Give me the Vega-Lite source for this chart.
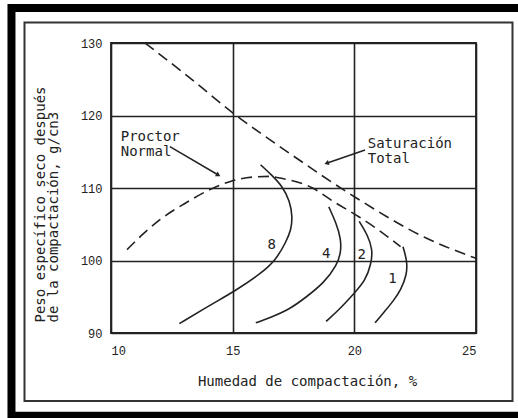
{
  "$schema": "https://vega.github.io/schema/vega-lite/v6.json",
  "width": 365,
  "height": 290,
  "autosize": {"type": "none"},
  "padding": {"left": 111, "top": 43, "right": 42, "bottom": 85},
  "background": "white",
  "config": {
    "view": {"stroke": "#222", "strokeWidth": 1.8},
    "font": "DejaVu Sans Mono",
    "axis": {
      "domain": false,
      "ticks": false,
      "grid": true,
      "gridColor": "#222",
      "gridWidth": 1.6,
      "gridOpacity": 1,
      "labelFont": "Liberation Mono",
      "labelFontSize": 12,
      "labelColor": "#222",
      "titleFont": "DejaVu Sans Mono",
      "titleFontWeight": "normal",
      "titleColor": "#222"
    }
  },
  "datasets": {
    "curves": [
      {"curve": "Saturación Total", "i": 0, "w": 11.4, "d": 130.0},
      {"curve": "Saturación Total", "i": 1, "w": 13.2, "d": 125.3},
      {"curve": "Saturación Total", "i": 2, "w": 15.03, "d": 120.3},
      {"curve": "Saturación Total", "i": 3, "w": 17.33, "d": 114.8},
      {"curve": "Saturación Total", "i": 4, "w": 20.0, "d": 108.8},
      {"curve": "Saturación Total", "i": 5, "w": 22.95, "d": 103.1},
      {"curve": "Saturación Total", "i": 6, "w": 25.0, "d": 100.3},
      {"curve": "Proctor Normal", "i": 0, "w": 10.66, "d": 101.5},
      {"curve": "Proctor Normal", "i": 1, "w": 11.3, "d": 103.6},
      {"curve": "Proctor Normal", "i": 2, "w": 12.0, "d": 105.6},
      {"curve": "Proctor Normal", "i": 3, "w": 13.0, "d": 107.8},
      {"curve": "Proctor Normal", "i": 4, "w": 14.14, "d": 109.9},
      {"curve": "Proctor Normal", "i": 5, "w": 15.0, "d": 111.0},
      {"curve": "Proctor Normal", "i": 6, "w": 15.8, "d": 111.5},
      {"curve": "Proctor Normal", "i": 7, "w": 16.5, "d": 111.6},
      {"curve": "Proctor Normal", "i": 8, "w": 17.05, "d": 111.3},
      {"curve": "Proctor Normal", "i": 9, "w": 18.29, "d": 110.0},
      {"curve": "Proctor Normal", "i": 10, "w": 19.11, "d": 108.2},
      {"curve": "Proctor Normal", "i": 11, "w": 20.2, "d": 106.0},
      {"curve": "Proctor Normal", "i": 12, "w": 21.0, "d": 104.2},
      {"curve": "Proctor Normal", "i": 13, "w": 21.9, "d": 101.9}
    ],
    "energy": [
      {"curve": "8", "i": 0, "w": 16.15, "d": 113.2},
      {"curve": "8", "i": 1, "w": 16.6, "d": 111.8},
      {"curve": "8", "i": 2, "w": 17.05, "d": 110.2},
      {"curve": "8", "i": 3, "w": 17.35, "d": 108.2},
      {"curve": "8", "i": 4, "w": 17.46, "d": 106.0},
      {"curve": "8", "i": 5, "w": 17.4, "d": 104.2},
      {"curve": "8", "i": 6, "w": 17.2, "d": 102.6},
      {"curve": "8", "i": 7, "w": 16.78, "d": 100.1},
      {"curve": "8", "i": 8, "w": 16.2, "d": 98.3},
      {"curve": "8", "i": 9, "w": 15.1, "d": 95.8},
      {"curve": "8", "i": 10, "w": 14.2, "d": 94.1},
      {"curve": "8", "i": 11, "w": 12.81, "d": 91.3},
      {"curve": "4", "i": 0, "w": 18.95, "d": 107.4},
      {"curve": "4", "i": 1, "w": 19.25, "d": 105.2},
      {"curve": "4", "i": 2, "w": 19.45, "d": 103.0},
      {"curve": "4", "i": 3, "w": 19.45, "d": 101.2},
      {"curve": "4", "i": 4, "w": 19.3, "d": 99.4},
      {"curve": "4", "i": 5, "w": 18.75, "d": 96.9},
      {"curve": "4", "i": 6, "w": 18.0, "d": 94.9},
      {"curve": "4", "i": 7, "w": 17.35, "d": 93.3},
      {"curve": "4", "i": 8, "w": 16.6, "d": 92.2},
      {"curve": "4", "i": 9, "w": 15.95, "d": 91.4},
      {"curve": "2", "i": 0, "w": 20.2, "d": 105.4},
      {"curve": "2", "i": 1, "w": 20.55, "d": 103.5},
      {"curve": "2", "i": 2, "w": 20.75, "d": 101.5},
      {"curve": "2", "i": 3, "w": 20.7, "d": 99.6},
      {"curve": "2", "i": 4, "w": 20.45, "d": 97.2},
      {"curve": "2", "i": 5, "w": 20.0, "d": 95.5},
      {"curve": "2", "i": 6, "w": 19.4, "d": 93.3},
      {"curve": "2", "i": 7, "w": 18.84, "d": 91.6},
      {"curve": "1", "i": 0, "w": 22.0, "d": 101.9},
      {"curve": "1", "i": 1, "w": 22.18, "d": 99.8},
      {"curve": "1", "i": 2, "w": 22.15, "d": 98.0},
      {"curve": "1", "i": 3, "w": 21.92, "d": 96.0},
      {"curve": "1", "i": 4, "w": 21.6, "d": 94.4},
      {"curve": "1", "i": 5, "w": 21.25, "d": 93.0},
      {"curve": "1", "i": 6, "w": 20.85, "d": 91.4}
    ],
    "energyLabels": [
      {"label": "8", "w": 16.6, "d": 102.1},
      {"label": "4", "w": 18.84, "d": 100.9},
      {"label": "2", "w": 20.3, "d": 100.7},
      {"label": "1", "w": 21.57, "d": 97.4}
    ],
    "notes": [
      {"label": "Proctor\nNormal", "w": 10.4, "d": 117.1},
      {"label": "Saturación\nTotal", "w": 20.55, "d": 116.05}
    ],
    "leaders": [
      {"curve": "Proctor Normal", "i": 0, "w": 12.42, "d": 115.7},
      {"curve": "Proctor Normal", "i": 1, "w": 14.41, "d": 111.79},
      {"curve": "Saturación Total", "i": 0, "w": 20.44, "d": 115.24},
      {"curve": "Saturación Total", "i": 1, "w": 18.86, "d": 113.41}
    ],
    "frame": [
      {"w": 5.91, "w2": 26.97, "d": 134.83, "d2": 78.6}
    ],
    "panel": [
      {"w": 6.445, "w2": 26.5, "d": 132.83, "d2": 80.62}
    ]
  },
  "encoding": {
    "x": {
      "field": "w",
      "type": "quantitative",
      "scale": {"domain": [10, 25], "nice": false, "zero": false},
      "axis": {
        "values": [10, 15, 20, 25],
        "labelPadding": 12,
        "title": "Humedad de compactación, %",
        "titleFontSize": 14,
        "titleX": 196,
        "titleY": 52,
        "titleAlign": "center",
        "titleBaseline": "alphabetic"
      }
    },
    "y": {
      "field": "d",
      "type": "quantitative",
      "scale": {"domain": [90, 130], "nice": false, "zero": false},
      "axis": {
        "values": [90, 100, 110, 120, 130],
        "labelPadding": 9,
        "title": ["Peso específico seco después", "de la compactación, g/cn3"],
        "titleFontSize": 14,
        "titleLineHeight": 13,
        "titleAngle": 270,
        "titleAlign": "left",
        "titleBaseline": "middle",
        "titleX": -71,
        "titleY": 279
      }
    }
  },
  "layer": [
    {
      "data": {"name": "frame"},
      "mark": {"type": "rect", "filled": false, "stroke": "black", "strokeWidth": 8, "clip": false},
      "encoding": {
        "x2": {"field": "w2"},
        "y2": {"field": "d2"}
      }
    },
    {
      "data": {"name": "panel"},
      "mark": {"type": "rect", "filled": false, "stroke": "#333", "strokeWidth": 2, "clip": false},
      "encoding": {
        "x2": {"field": "w2"},
        "y2": {"field": "d2"}
      }
    },
    {
      "data": {"name": "curves"},
      "mark": {"type": "line", "color": "#222", "strokeWidth": 1.6, "strokeDash": [11, 6], "interpolate": "monotone"},
      "encoding": {
        "detail": {"field": "curve"},
        "order": {"field": "i", "type": "quantitative"}
      }
    },
    {
      "data": {"name": "energy"},
      "mark": {"type": "line", "color": "#222", "strokeWidth": 1.6, "interpolate": "basis"},
      "encoding": {
        "detail": {"field": "curve"},
        "order": {"field": "i", "type": "quantitative"}
      }
    },
    {
      "data": {"name": "leaders"},
      "mark": {"type": "line", "color": "#222", "strokeWidth": 1.5},
      "encoding": {
        "detail": {"field": "curve"},
        "order": {"field": "i", "type": "quantitative"}
      }
    },
    {
      "data": {"name": "leaders"},
      "transform": [{"filter": "datum.curve === 'Proctor Normal' && datum.i === 1"}],
      "mark": {"type": "point", "shape": "triangle-up", "filled": true, "color": "#222", "size": 28, "angle": 120, "opacity": 1}
    },
    {
      "data": {"name": "leaders"},
      "transform": [{"filter": "datum.curve === 'Saturación Total' && datum.i === 1"}],
      "mark": {"type": "point", "shape": "triangle-up", "filled": true, "color": "#222", "size": 28, "angle": 251, "opacity": 1}
    },
    {
      "data": {"name": "energyLabels"},
      "mark": {"type": "text", "font": "DejaVu Sans Mono", "fontSize": 14, "color": "#222", "align": "center", "baseline": "middle"},
      "encoding": {"text": {"field": "label"}}
    },
    {
      "data": {"name": "notes"},
      "mark": {"type": "text", "font": "DejaVu Sans Mono", "fontSize": 14, "color": "#222", "align": "left", "baseline": "middle", "lineBreak": "\n", "lineHeight": 15},
      "encoding": {"text": {"field": "label"}}
    }
  ]
}
